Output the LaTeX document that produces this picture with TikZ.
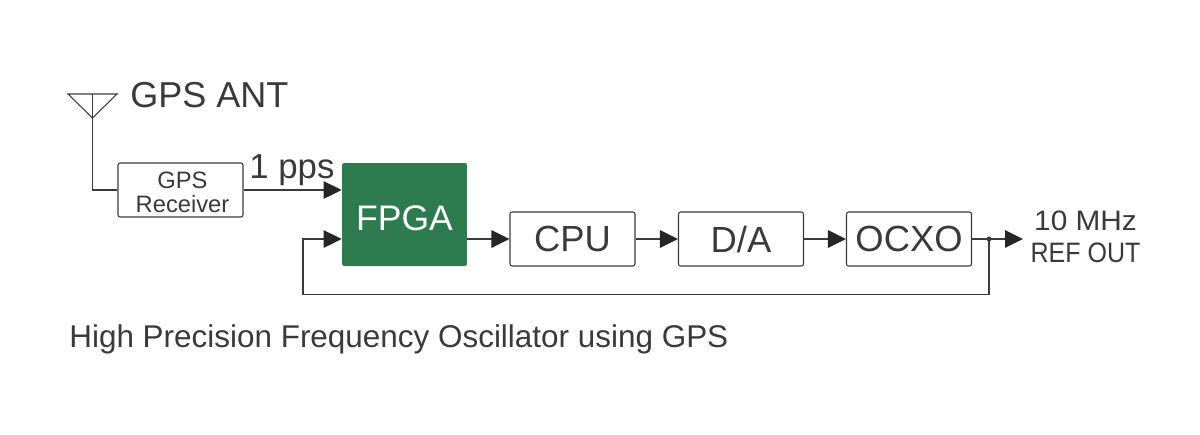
\documentclass[tikz,border=0pt]{standalone}
\usepackage{fontspec}
\setmainfont{Liberation Sans}
\usetikzlibrary{arrows.meta}
\definecolor{fpgagreen}{HTML}{2E7B4F}
\definecolor{inkgrey}{HTML}{3A3A3A}
\tikzset{
  block/.style={draw=inkgrey, line width=0.6pt, rounded corners=1.2pt, minimum width=2.5cm, minimum height=1.08cm, inner sep=0pt, text=inkgrey, font=\fontsize{20.7}{20.7}\selectfont},
  fpgablock/.style={fill=fpgagreen, rounded corners=1.2pt, minimum width=2.5cm, minimum height=2.06cm, inner sep=0pt, text=white, font=\fontsize{20.2}{20.2}\selectfont, text height=0.64cm, text depth=0pt},
  wire/.style={draw=inkgrey, line width=0.6pt},
  feed/.style={wire, -{Triangle[length=0.36cm, width=0.35cm, color=black!85]}},
  lbl/.style={inner sep=0pt, text=inkgrey, anchor=base west}
}
\begin{document}
\begin{tikzpicture}[x=0.02cm, y=-0.02cm]
\useasboundingbox (0,0) rectangle (1200,434);
% blocks
\node[block, font=\fontsize{13.5}{13.7}\selectfont, align=center, text height=0.9cm] (receiver) at (180.5,190) {\hspace*{0.08cm}GPS\\\hspace*{0.08cm}Receiver};
\node[fpgablock] (fpga) at (404.5,214.5) {FPGA};
\node[block] (cpu) at (572.5,239) {CPU};
\node[block] (da) at (741,239) {D/A};
\node[block] (ocxo) at (909,239) {OCXO};
% antenna
\coordinate (antleft) at (68,94);
\coordinate (antright) at (117,94);
\coordinate (anttip) at (92.5,118);
\coordinate (anttop) at (92.5,94);
\draw[wire] (antleft) -- (antright) -- (anttip) -- cycle;
\draw[wire] (anttop) -- (anttip) |- (receiver.west);
% signal chain
\coordinate (fpgatop) at (fpga.west |- receiver.east);
\coordinate (fpgalow) at (fpga.west |- cpu.west);
\draw[feed] (receiver.east) -- (fpgatop);
\draw[feed] (fpgalow -| fpga.east) -- (cpu.west);
\draw[feed] (cpu.east) -- (da.west);
\draw[feed] (da.east) -- (ocxo.west);
\coordinate (refjoin) at (989,239);
\coordinate (refout) at (1023,239);
\coordinate (loopright) at (989,294.5);
\coordinate (loopleft) at (303,294.5);
\coordinate (loopup) at (303,239);
\draw[feed] (ocxo.east) -- (refout);
\draw[feed] (refjoin) -- (loopright) -- (loopleft) -- (loopup) -- (fpgalow);
\fill[inkgrey] (refjoin) circle (2.5);
% labels
\node[lbl, font=\fontsize{20.5}{20.5}\selectfont] (antlabel) at (130,107) {GPS ANT};
\node[lbl, font=\fontsize{19.8}{19.8}\selectfont] (ppslabel) at (249,178) {1 pps};
\node[inner sep=0pt, text=inkgrey, align=center, font=\fontsize{16}{18.2}\selectfont] (reflabel) at (1085.5,237) {\scalebox{1.06}[1]{10 MHz}\\\scalebox{0.89}[1]{REF OUT}};
\node[lbl, font=\fontsize{17.9}{17.9}\selectfont] (caption) at (69,347) {High Precision Frequency Oscillator using GPS};
\end{tikzpicture}
\end{document}
